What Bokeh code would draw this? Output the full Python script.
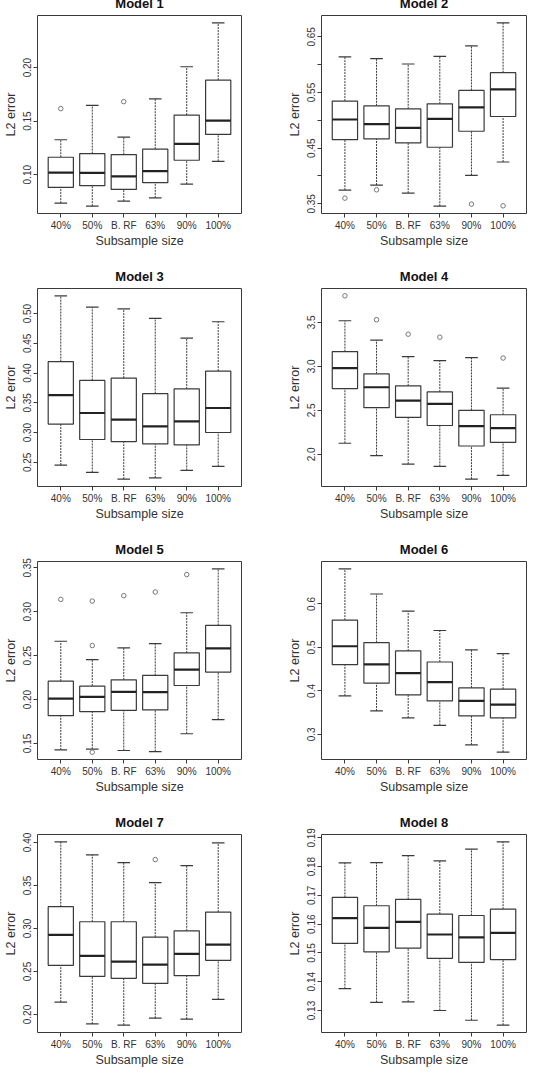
from bokeh.plotting import figure
from bokeh.layouts import gridplot
from bokeh.models import FixedTicker, Range1d
from bokeh.embed import file_html
from bokeh.resources import INLINE

# Subsample sizes on the x axis
groups = ["40%", "50%", "B. RF", "63%", "90%", "100%"]

# Model 1
m1_low = [0.0734, 0.0706, 0.0753, 0.0784, 0.0912, 0.1125]
m1_q1 = [0.0881, 0.0897, 0.0862, 0.0925, 0.1135, 0.1376]
m1_med = [0.1019, 0.1016, 0.0984, 0.1034, 0.1288, 0.1504]
m1_q3 = [0.1163, 0.1197, 0.1188, 0.1238, 0.1557, 0.1883]
m1_high = [0.1326, 0.1648, 0.1351, 0.1707, 0.2008, 0.2418]
m1_out_group = [1, 3]
m1_out_value = [0.1617, 0.1682]
m1_yticks = [0.10, 0.15, 0.20]
m1_ylabels = ["0.10", "0.15", "0.20"]

# Model 2
m2_low = [0.3746, 0.3837, 0.3692, 0.3458, 0.4011, 0.4251]
m2_q1 = [0.4654, 0.4666, 0.4594, 0.4516, 0.4804, 0.5069]
m2_med = [0.5015, 0.4930, 0.4864, 0.5027, 0.5231, 0.5555]
m2_q3 = [0.5345, 0.5261, 0.5207, 0.5297, 0.5537, 0.5856]
m2_high = [0.6139, 0.6109, 0.6012, 0.6150, 0.6337, 0.6751]
m2_out_group = [1, 2, 5, 6]
m2_out_value = [0.3602, 0.3752, 0.3494, 0.3464]
m2_yticks = [0.35, 0.40, 0.45, 0.50, 0.55, 0.60, 0.65]
m2_ylabels = ["0.35", "", "0.45", "", "0.55", "", "0.65"]

# Model 3
m3_low = [0.2455, 0.2331, 0.2218, 0.2241, 0.2365, 0.2432]
m3_q1 = [0.3143, 0.2884, 0.2850, 0.2810, 0.2793, 0.3002]
m3_med = [0.3629, 0.3330, 0.3217, 0.3104, 0.3188, 0.3414]
m3_q3 = [0.4193, 0.3877, 0.3916, 0.3656, 0.3735, 0.4034]
m3_high = [0.5298, 0.5107, 0.5078, 0.4920, 0.4587, 0.4863]
m3_out_group = []
m3_out_value = []
m3_yticks = [0.25, 0.30, 0.35, 0.40, 0.45, 0.50]
m3_ylabels = ["0.25", "0.30", "0.35", "0.40", "0.45", "0.50"]

# Model 4
m4_low = [2.126, 1.985, 1.889, 1.863, 1.718, 1.760]
m4_q1 = [2.748, 2.531, 2.420, 2.328, 2.095, 2.137]
m4_med = [2.981, 2.763, 2.611, 2.573, 2.321, 2.298]
m4_q3 = [3.168, 2.916, 2.779, 2.710, 2.500, 2.450]
m4_high = [3.519, 3.298, 3.111, 3.065, 3.099, 2.752]
m4_out_group = [1, 2, 3, 4, 6]
m4_out_value = [3.802, 3.531, 3.366, 3.332, 3.095]
m4_yticks = [2.0, 2.5, 3.0, 3.5]
m4_ylabels = ["2.0", "2.5", "3.0", "3.5"]

# Model 5
m5_low = [0.1427, 0.1435, 0.1420, 0.1408, 0.1611, 0.1771]
m5_q1 = [0.1817, 0.1863, 0.1878, 0.1882, 0.2160, 0.2313]
m5_med = [0.2011, 0.2031, 0.2088, 0.2084, 0.2340, 0.2584]
m5_q3 = [0.2210, 0.2153, 0.2225, 0.2275, 0.2531, 0.2844]
m5_high = [0.2664, 0.2454, 0.2588, 0.2637, 0.2989, 0.3489]
m5_out_group = [1, 2, 2, 2, 3, 4, 5]
m5_out_value = [0.3141, 0.3122, 0.2615, 0.1401, 0.3183, 0.3225, 0.3424]
m5_yticks = [0.15, 0.20, 0.25, 0.30, 0.35]
m5_ylabels = ["0.15", "0.20", "0.25", "0.30", "0.35"]

# Model 6
m6_low = [0.3887, 0.3540, 0.3378, 0.3208, 0.2761, 0.2591]
m6_q1 = [0.4604, 0.4180, 0.3910, 0.3771, 0.3424, 0.3378]
m6_med = [0.5028, 0.4611, 0.4411, 0.4203, 0.3771, 0.3686]
m6_q3 = [0.5629, 0.5113, 0.4920, 0.4665, 0.4072, 0.4041]
m6_high = [0.6809, 0.6230, 0.5837, 0.5390, 0.4943, 0.4858]
m6_out_group = []
m6_out_value = []
m6_yticks = [0.3, 0.4, 0.5, 0.6]
m6_ylabels = ["0.3", "0.4", "0.5", "0.6"]

# Model 7
m7_low = [0.2144, 0.1891, 0.1876, 0.1957, 0.1946, 0.2175]
m7_q1 = [0.2572, 0.2443, 0.2420, 0.2362, 0.2451, 0.2630]
m7_med = [0.2926, 0.2681, 0.2615, 0.2580, 0.2704, 0.2813]
m7_q3 = [0.3253, 0.3078, 0.3078, 0.2899, 0.2973, 0.3190]
m7_high = [0.4007, 0.3856, 0.3766, 0.3533, 0.3731, 0.3996]
m7_out_group = [4]
m7_out_value = [0.3801]
m7_yticks = [0.20, 0.25, 0.30, 0.35, 0.40]
m7_ylabels = ["0.20", "0.25", "0.30", "0.35", "0.40"]

# Model 8
m8_low = [0.1376, 0.1328, 0.1330, 0.1300, 0.1266, 0.1249]
m8_q1 = [0.1533, 0.1504, 0.1517, 0.1481, 0.1467, 0.1477]
m8_med = [0.1621, 0.1587, 0.1608, 0.1564, 0.1554, 0.1570]
m8_q3 = [0.1693, 0.1664, 0.1686, 0.1635, 0.1630, 0.1652]
m8_high = [0.1813, 0.1814, 0.1838, 0.1820, 0.1861, 0.1886]
m8_out_group = []
m8_out_value = []
m8_yticks = [0.13, 0.14, 0.15, 0.16, 0.17, 0.18, 0.19]
m8_ylabels = ["0.13", "0.14", "0.15", "0.16", "0.17", "0.18", "0.19"]

FONT = "Liberation Sans"
LINE = "#3a3a3a"
BOX_W = 0.8
ROW_H = 273
TOP_B = 27        # space taken by the heading above each frame
FRAME_H = 197


def boxplot(title, low, q1, med, q3, high, out_g, out_v, yticks, ylabels,
            left_col, height):
    pos = list(range(1, len(groups) + 1))
    values = low + high + out_v
    lo, hi = min(values), max(values)
    pad = 0.04 * (hi - lo)
    y0, y1 = lo - pad, hi + pad

    width = 273 if left_col else 274
    p = figure(width=width, height=height, output_backend="svg",
               toolbar_location=None, tools="", title=title,
               x_range=Range1d(0.26, len(groups) + 0.74),
               y_range=Range1d(y0, y1))
    p.min_border_left = 36 if left_col else 48
    p.min_border_right = 32 if left_col else 21
    p.min_border_top = 5
    p.min_border_bottom = height - TOP_B - FRAME_H
    p.background_fill_color = "white"
    p.border_fill_color = "white"
    p.outline_line_color = LINE
    p.outline_line_width = 1
    p.xgrid.visible = False
    p.ygrid.visible = False

    p.title.align = "center"
    p.title.text_font = FONT
    p.title.text_font_size = "13px"
    p.title.text_font_style = "bold"
    p.title.text_color = "#111111"
    p.title.standoff = 9

    # whiskers
    p.segment(x0=pos, x1=pos, y0=q3, y1=high, line_color=LINE,
              line_width=1, line_dash="2 1")
    p.segment(x0=pos, x1=pos, y0=low, y1=q1, line_color=LINE,
              line_width=1, line_dash="2 1")
    # staples
    half_staple = BOX_W / 4
    p.segment(x0=[x - half_staple for x in pos], x1=[x + half_staple for x in pos],
              y0=high, y1=high, line_color=LINE, line_width=1.2)
    p.segment(x0=[x - half_staple for x in pos], x1=[x + half_staple for x in pos],
              y0=low, y1=low, line_color=LINE, line_width=1.2)
    # boxes
    p.vbar(x=pos, width=BOX_W, bottom=q1, top=q3, fill_color="white",
           line_color=LINE, line_width=1.2)
    # medians
    half_box = BOX_W / 2
    p.segment(x0=[x - half_box for x in pos], x1=[x + half_box for x in pos],
              y0=med, y1=med, line_color="#222222", line_width=2.2)
    # outliers
    if out_g:
        p.scatter(x=out_g, y=out_v, marker="circle", size=4.5,
                  fill_color=None, line_color="#777777", line_width=1)

    # x axis
    p.xaxis.ticker = FixedTicker(ticks=pos)
    p.xaxis.major_label_overrides = {i: g for i, g in zip(pos, groups)}
    p.xaxis.axis_label = "Subsample size"
    # y axis
    p.yaxis.ticker = FixedTicker(ticks=yticks)
    p.yaxis.major_label_overrides = {t: s for t, s in zip(yticks, ylabels)}
    p.yaxis.major_label_orientation = "vertical"
    p.yaxis.axis_label = "L2 error"

    for ax in (p.xaxis[0], p.yaxis[0]):
        ax.axis_line_color = None
        ax.major_tick_line_color = LINE
        ax.major_tick_out = 4
        ax.major_tick_in = 0
        ax.minor_tick_line_color = None
        ax.major_label_text_font = FONT
        ax.major_label_text_font_size = "10px"
        ax.major_label_text_color = "#333333"
        ax.axis_label_text_font = FONT
        ax.axis_label_text_font_size = "12.5px"
        ax.axis_label_text_font_style = "normal"
        ax.axis_label_text_color = "#333333"
    p.xaxis.major_label_standoff = 2
    p.xaxis.axis_label_standoff = 0
    p.yaxis.major_label_standoff = 2
    p.yaxis.axis_label_standoff = 3
    return p


panels = [
    ("Model 1", m1_low, m1_q1, m1_med, m1_q3, m1_high, m1_out_group, m1_out_value, m1_yticks, m1_ylabels),
    ("Model 2", m2_low, m2_q1, m2_med, m2_q3, m2_high, m2_out_group, m2_out_value, m2_yticks, m2_ylabels),
    ("Model 3", m3_low, m3_q1, m3_med, m3_q3, m3_high, m3_out_group, m3_out_value, m3_yticks, m3_ylabels),
    ("Model 4", m4_low, m4_q1, m4_med, m4_q3, m4_high, m4_out_group, m4_out_value, m4_yticks, m4_ylabels),
    ("Model 5", m5_low, m5_q1, m5_med, m5_q3, m5_high, m5_out_group, m5_out_value, m5_yticks, m5_ylabels),
    ("Model 6", m6_low, m6_q1, m6_med, m6_q3, m6_high, m6_out_group, m6_out_value, m6_yticks, m6_ylabels),
    ("Model 7", m7_low, m7_q1, m7_med, m7_q3, m7_high, m7_out_group, m7_out_value, m7_yticks, m7_ylabels),
    ("Model 8", m8_low, m8_q1, m8_med, m8_q3, m8_high, m8_out_group, m8_out_value, m8_yticks, m8_ylabels),
]

# the grid is lifted so the first frame sits near the top of the page
LIFT = 11
last_h = 1075 + LIFT - 3 * ROW_H

figs = []
for i, args in enumerate(panels):
    figs.append(boxplot(*args, left_col=(i % 2 == 0),
                        height=(last_h if i >= 6 else ROW_H)))

grid = gridplot([figs[0:2], figs[2:4], figs[4:6], figs[6:8]],
                toolbar_location=None)
grid.styles = {"margin-top": f"-{LIFT}px"}

open("out.html", "w").write(file_html(grid, INLINE))
